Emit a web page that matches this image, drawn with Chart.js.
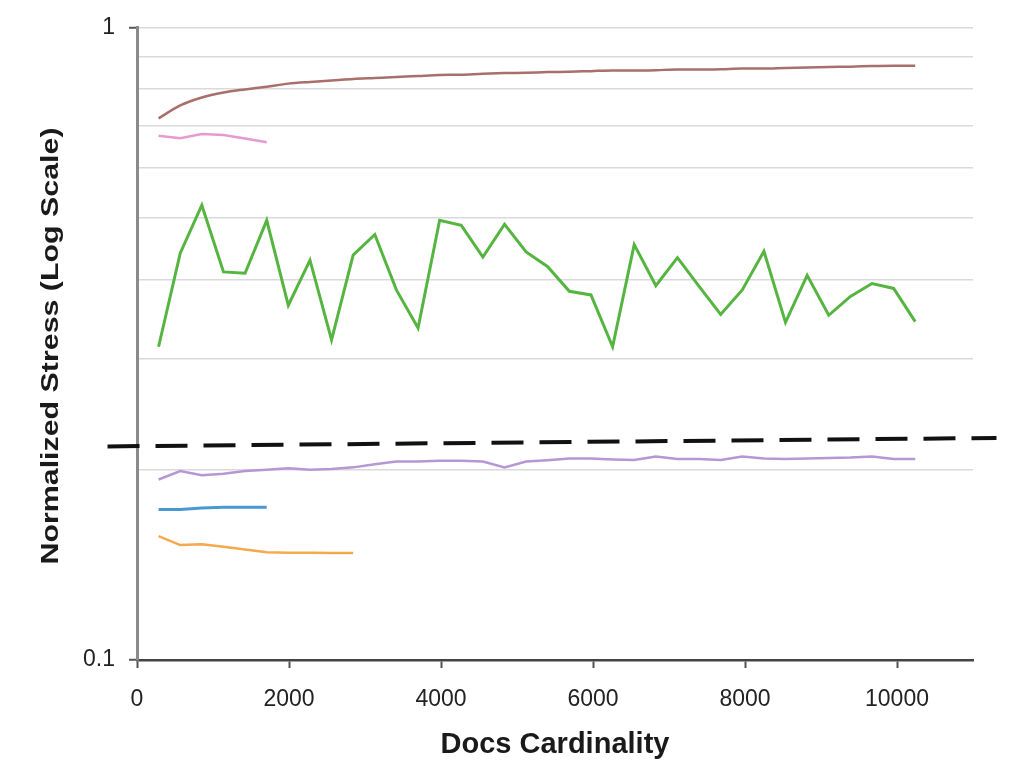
<!DOCTYPE html>
<html>
<head>
<meta charset="utf-8">
<script src="https://cdn.jsdelivr.net/npm/chart.js@4"></script>
<style>
  html, body { margin: 0; padding: 0; background: #fff; }
  #wrap { width: 1013px; height: 762px; position: relative; }
</style>
</head>
<body>
<div id="wrap"><canvas id="stressChart"></canvas></div>
<script>
/* ---------- Data ---------- */
// docs cardinality at each sample
const xValues = [284, 569, 853, 1138, 1422, 1707, 1991, 2276, 2560, 2844, 3129, 3413,
  3698, 3982, 4267, 4551, 4836, 5120, 5404, 5689, 5973, 6258, 6542, 6827,
  7111, 7396, 7680, 7964, 8249, 8533, 8818, 9102, 9387, 9671, 9956, 10240];

const brownY = [0.719, 0.754, 0.776, 0.790, 0.799, 0.807, 0.816, 0.821, 0.825, 0.830, 0.833, 0.836,
  0.839, 0.842, 0.843, 0.846, 0.848, 0.849, 0.851, 0.852, 0.854, 0.856, 0.856, 0.857,
  0.859, 0.859, 0.860, 0.862, 0.862, 0.864, 0.865, 0.867, 0.868, 0.870, 0.871, 0.871];
const pinkY = [0.675, 0.669, 0.679, 0.677, 0.668, 0.659];
const greenY = [0.313, 0.440, 0.524, 0.411, 0.409, 0.496, 0.364, 0.429, 0.321, 0.437, 0.471, 0.385,
  0.335, 0.496, 0.487, 0.434, 0.489, 0.442, 0.419, 0.383, 0.378, 0.313, 0.454, 0.391,
  0.433, 0.390, 0.352, 0.385, 0.443, 0.342, 0.406, 0.351, 0.376, 0.394, 0.387, 0.343];
const purpleY = [0.193, 0.199, 0.196, 0.197, 0.199, 0.200, 0.201, 0.200, 0.2005, 0.2017, 0.204, 0.206,
  0.206, 0.2066, 0.2066, 0.206, 0.2017, 0.206, 0.207, 0.2083, 0.2083, 0.2076, 0.2072, 0.2098,
  0.208, 0.208, 0.2072, 0.2098, 0.2083, 0.208, 0.2083, 0.2087, 0.209, 0.2098, 0.208, 0.208];
const blueY = [0.173, 0.173, 0.174, 0.1745, 0.1745, 0.1745];
const orangeY = [0.157, 0.152, 0.1525, 0.151, 0.1495, 0.148, 0.1478, 0.1478, 0.1477, 0.1476];

// reference threshold (dashed), runs past both axes
const dashX = [-388, 11309];
const dashY = [0.2177, 0.2245];

// axis ticks
const xTicks = [0, 2000, 4000, 6000, 8000, 10000];
const yTicks = [0.1, 0.2, 0.3, 0.4, 0.5, 0.6, 0.7, 0.8, 0.9, 1];
const yTickLabels = ['0.1', '', '', '', '', '', '', '', '', '1'];

const X_TITLE = 'Docs Cardinality';
const Y_TITLE = 'Normalized Stress (Log Scale)';

const FONT = '"Liberation Sans", Arial, Helvetica, sans-serif';

function toPoints(ys, xs = xValues) {
  return ys.map((y, i) => ({ x: xs[i], y }));
}

function series(ys, color, width, extra = {}) {
  return Object.assign({
    data: toPoints(ys),
    borderColor: color,
    backgroundColor: color,
    borderWidth: width,
    pointRadius: 0,
    tension: 0,
    fill: false
  }, extra);
}

// y title is drawn by hand: the reference glyphs are stretched along the text
const yTitlePlugin = {
  id: 'yTitle',
  afterDraw(chart) {
    const ctx = chart.ctx;
    ctx.save();
    ctx.translate(58, 346);
    ctx.rotate(-Math.PI / 2);
    ctx.scale(1.32, 1);
    ctx.font = 'bold 23px ' + FONT;
    ctx.fillStyle = '#1a1a1a';
    ctx.textAlign = 'center';
    ctx.textBaseline = 'alphabetic';
    ctx.fillText(Y_TITLE, 0, 0);
    ctx.restore();
  }
};

const ctx = document.getElementById('stressChart').getContext('2d');

new Chart(ctx, {
  type: 'line',
  data: {
    datasets: [
      series(brownY, '#a96f6a', 2.5, { cubicInterpolationMode: 'monotone' }),
      series(pinkY, '#e69ad2', 2.5),
      series(greenY, '#55b540', 3),
      series(purpleY, '#b597d6', 2.5),
      series(blueY, '#4a98d2', 3),
      series(orangeY, '#f4a94c', 2.5),
      {
        data: toPoints(dashY, dashX),
        borderColor: '#111',
        borderWidth: 4,
        borderDash: [32, 16],
        pointRadius: 0,
        fill: false,
        clip: false
      }
    ]
  },
  options: {
    responsive: true,
    maintainAspectRatio: false,
    animation: false,
    layout: { padding: { top: 25, right: 40, bottom: 0, left: 0 } },
    plugins: {
      legend: { display: false },
      tooltip: { enabled: false }
    },
    scales: {
      x: {
        type: 'linear',
        min: 0,
        max: 11000,
        afterBuildTicks: (axis) => { axis.ticks = xTicks.map(v => ({ value: v })); },
        afterFit: (axis) => { axis.height = 102; },
        border: { color: '#444', width: 2.5 },
        grid: {
          drawOnChartArea: false,
          drawTicks: true,
          tickLength: 8,
          tickColor: '#555',
          tickWidth: 2
        },
        ticks: {
          autoSkip: false,
          maxRotation: 0,
          padding: 18,
          color: '#222',
          font: { family: FONT, size: 23 },
          callback: (v) => String(v)
        },
        title: {
          display: true,
          text: X_TITLE,
          color: '#1a1a1a',
          font: { family: FONT, size: 29, weight: 'bold' },
          padding: { top: 0, bottom: 0 }
        }
      },
      y: {
        type: 'logarithmic',
        min: 0.1,
        max: 1,
        afterBuildTicks: (axis) => { axis.ticks = yTicks.map(v => ({ value: v })); },
        afterFit: (axis) => { axis.width = 137; },
        border: { color: '#8a8a8a', width: 3 },
        grid: {
          color: (c) => (c.tick && c.tick.value === 0.1) ? 'rgba(0,0,0,0)' : '#dadada',
          lineWidth: 1.5,
          drawTicks: true,
          tickLength: 8,
          tickWidth: 2,
          tickColor: (c) => (c.tick && (c.tick.value === 1 || c.tick.value === 0.1)) ? '#555' : 'rgba(0,0,0,0)'
        },
        ticks: {
          autoSkip: false,
          padding: 14,
          color: '#222',
          font: { family: FONT, size: 23 },
          callback: (v, i) => yTickLabels[i]
        }
      }
    }
  },
  plugins: [yTitlePlugin]
});
</script>
</body>
</html>
